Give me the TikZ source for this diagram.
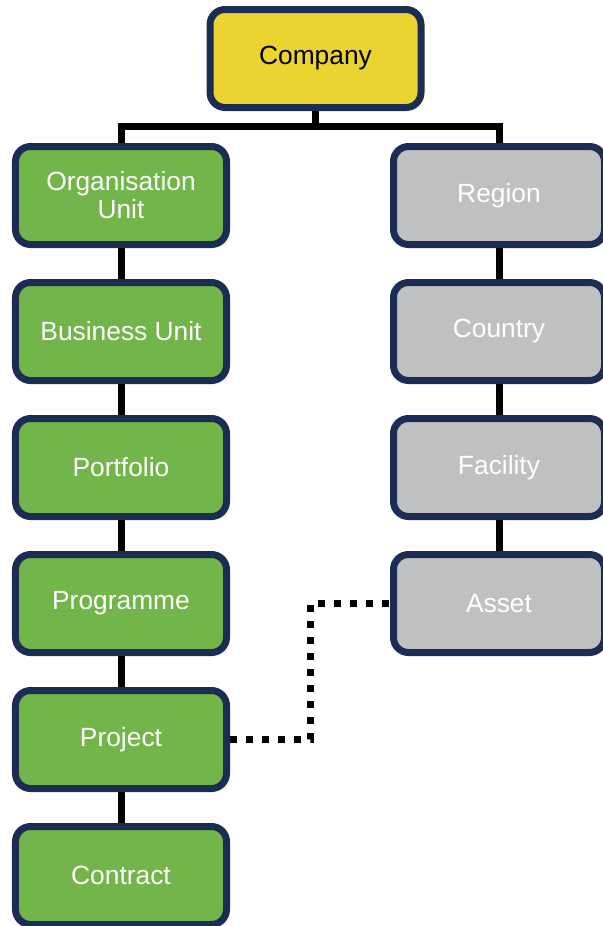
\documentclass[tikz,border=0pt]{standalone}
\usepackage{fontspec}
\setmainfont{Liberation Sans}
\usetikzlibrary{positioning,calc}
\definecolor{boxyellow}{HTML}{EBD431}
\definecolor{boxgreen}{HTML}{72B54A}
\definecolor{boxgrey}{HTML}{BFC0C2}
\definecolor{boxborder}{HTML}{1B2D52}
\begin{document}
\begin{tikzpicture}[
	level/.style={draw=boxborder, line width=0.14cm, rounded corners=0.3cm, minimum width=4.22cm, minimum height=1.96cm, align=center, font=\fontsize{15}{16}\selectfont},
	top/.style={level, fill=boxyellow, text=black},
	org/.style={level, fill=boxgreen, text=white},
	geo/.style={level, fill=boxgrey, text=white},
	link/.style={line width=0.14cm},
	dots/.style={line width=0.14cm, dash pattern=on 0.14cm off 0.18cm}
	] %Início do gráfico
	\useasboundingbox (0,0) rectangle (12.06,-18.52); %Margens
		%Topo
	\node[top] (company) at (6.31,-1.17) {Company};
		%Coluna da organização
	\node[org] (orgunit) at (2.42,-3.91) {Organisation\\Unit};
	\node[org, below=0.62cm of orgunit] (business) {Business Unit};
	\node[org, below=0.62cm of business] (portfolio) {Portfolio};
	\node[org, below=0.62cm of portfolio] (programme) {Programme};
	\node[org, below=0.62cm of programme] (project) {Project};
	\node[org, below=0.62cm of project] (contract) {Contract};
		%Coluna geográfica
	\node[geo] (region) at (9.98,-3.91) {Region};
	\node[geo, below=0.62cm of region] (country) {Country};
	\node[geo, below=0.62cm of country] (facility) {Facility};
	\node[geo, below=0.62cm of facility] (asset) {Asset};
		%Ligações
	\draw[link] (company.south) -- ++(0,-0.34); %Tronco
	\draw[link] (orgunit.north) -- ++(0,0.34) -| (region.north); %Barra
	\draw[link] (orgunit) -- (business) (business) -- (portfolio) (portfolio) -- (programme) (programme) -- (project) (project) -- (contract);
	\draw[link] (region) -- (country) (country) -- (facility) (facility) -- (asset);
	\draw[dots] (project.east) -| ($(project.east)!0.5!(asset.west)$) |- (asset.west); %Projeto ao ativo
\end{tikzpicture}
\end{document}
